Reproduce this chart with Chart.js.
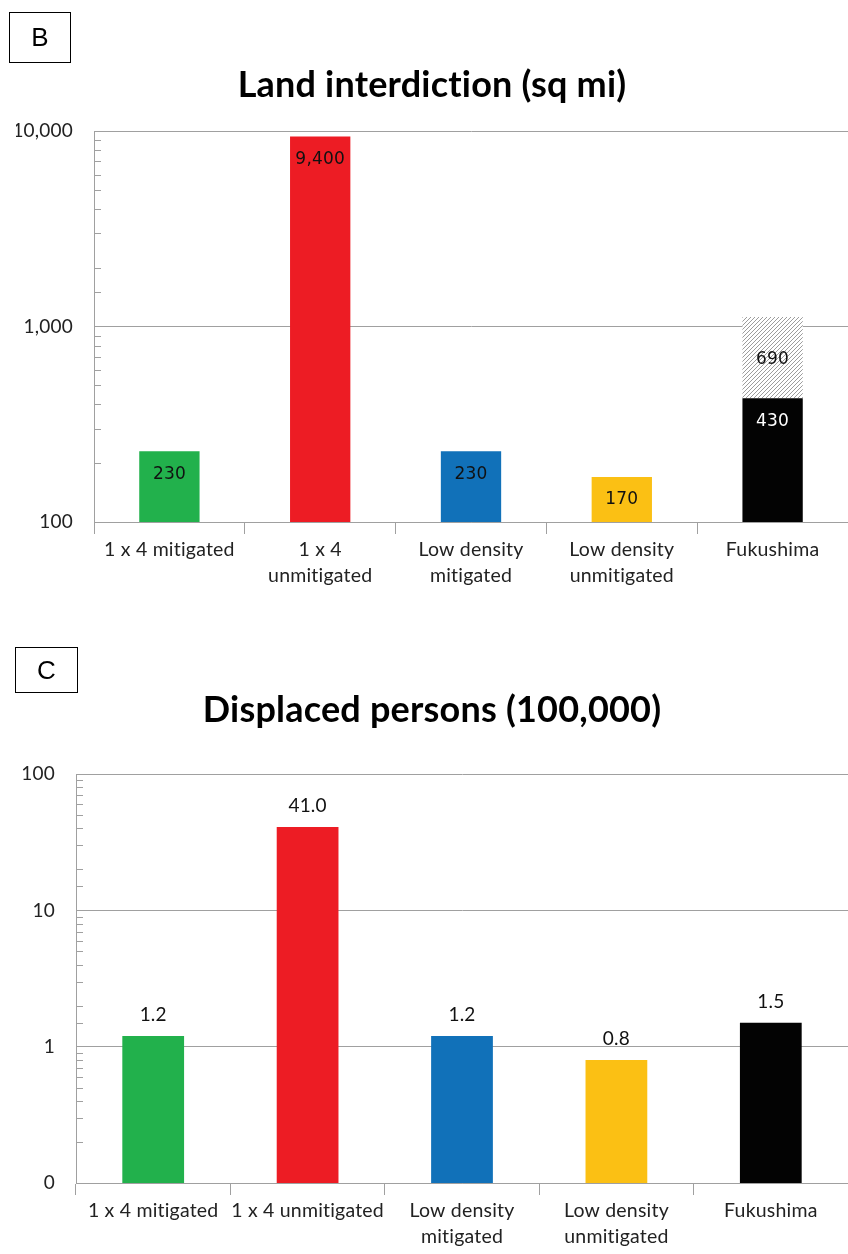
<!DOCTYPE html>
<html>
<head>
<meta charset="utf-8">
<script src="https://cdn.jsdelivr.net/npm/chart.js@4.4.1/dist/chart.umd.min.js"></script>
<style>
  body { margin: 0; background: #fff; }
  #page { position: relative; width: 848px; height: 1254px; overflow: hidden; }
  canvas { position: absolute; left: 0; }
  .panel {
    position: absolute; border: 1px solid #000; box-sizing: border-box;
    font: 26px 'Liberation Sans', Arial, sans-serif; color: #000;
    display: flex; align-items: center; justify-content: center;
  }
</style>
</head>
<body>
<div id="page">
  <canvas id="landChart" width="848" height="625" style="top:0"></canvas>
  <canvas id="peopleChart" width="848" height="629" style="top:625px"></canvas>
  <div class="panel" style="left:9px;top:12px;width:62px;height:51px;">B</div>
  <div class="panel" style="left:15px;top:647px;width:63px;height:46px;">C</div>
</div>
<script>
// Panel B: land interdiction (sq mi), log axis
const landCategories = ['1 x 4 mitigated', ['1 x 4', 'unmitigated'], ['Low density', 'mitigated'], ['Low density', 'unmitigated'], 'Fukushima'];
const landValues = [230, 9400, 230, 170, 430];
const landExtra = [null, null, null, null, 690]; // hatched part on top of Fukushima
const landTicks = [100, 1000, 10000];

// Panel C: displaced persons (100,000), log axis
const peopleCategories = ['1 x 4 mitigated', '1 x 4 unmitigated', ['Low density', 'mitigated'], ['Low density', 'unmitigated'], 'Fukushima'];
const peopleValues = [1.2, 41.0, 1.2, 0.8, 1.5];
const peopleTicks = [0.1, 1, 10, 100];

const barColors = ['#22b14c', '#ed1c24', '#1171b9', '#fbc014', '#030303'];
const gridGray = '#a0a0a0';
const axisFont = "Lato, 'Open Sans', sans-serif";

function isPow10(v) {
  const l = Math.log10(v);
  return Math.abs(l - Math.round(l)) < 1e-6;
}

function tickText(list, v) {
  const t = list.find(x => Math.abs(x - v) / x < 1e-6);
  return t === undefined ? '' : Math.round(t).toLocaleString('en-US');
}

function hatch() {
  const c = document.createElement('canvas');
  c.width = 4; c.height = 4;
  const g = c.getContext('2d');
  g.fillStyle = '#fff';
  g.fillRect(0, 0, 4, 4);
  g.strokeStyle = '#9c9c9c';
  g.lineWidth = 1;
  g.beginPath();
  g.moveTo(0, 4); g.lineTo(4, 0);
  g.moveTo(-1, 1); g.lineTo(1, -1);
  g.moveTo(3, 5); g.lineTo(5, 3);
  g.stroke();
  return g.createPattern(c, 'repeat');
}

// tiny letter spacing keeps Lato from joining "ti"
const noLigatures = {
  id: 'noLigatures',
  beforeDraw(chart) { chart.ctx.letterSpacing = '0.2px'; }
};

// small tick marks inside the plot for the minor log steps
const minorTicks = {
  id: 'minorTicks',
  afterDatasetsDraw(chart) {
    const y = chart.scales.y, ctx = chart.ctx;
    ctx.save();
    ctx.strokeStyle = gridGray;
    ctx.lineWidth = 1;
    y.ticks.forEach(t => {
      if (isPow10(t.value)) return;
      const py = Math.round(y.getPixelForValue(t.value)) + 0.5;
      ctx.beginPath();
      ctx.moveTo(y.right, py);
      ctx.lineTo(y.right + 7, py);
      ctx.stroke();
    });
    ctx.restore();
  }
};

// value labels on the bars
const valueLabels = {
  id: 'valueLabels',
  afterDatasetsDraw(chart, args, opts) {
    const ctx = chart.ctx;
    ctx.save();
    ctx.font = opts.font;
    ctx.textAlign = 'center';
    ctx.textBaseline = 'middle';
    chart.data.datasets.forEach((ds, di) => {
      chart.getDatasetMeta(di).data.forEach((bar, i) => {
        const v = ds.data[i];
        if (v == null) return;
        let y;
        if (opts.position === 'above') y = bar.y - opts.offset;
        else if ((opts.centered || []).includes(di)) y = (bar.y + bar.base) / 2 + 2;
        else y = bar.y + opts.offset;
        ctx.fillStyle = (opts.colors && opts.colors[di] && opts.colors[di][i]) || '#111';
        ctx.fillText(opts.format(v), bar.x, y);
      });
    });
    ctx.restore();
  }
};

function yAxis(min, max, list, width) {
  return {
    type: 'logarithmic', min: min, max: max, stacked: true,
    afterFit: s => { s.width = width; },
    border: { color: gridGray },
    grid: {
      drawTicks: false,
      color: c => (c.tick && isPow10(c.tick.value)) ? gridGray : 'rgba(0,0,0,0)'
    },
    ticks: {
      autoSkip: false, padding: 21, color: '#222',
      font: { family: axisFont, size: 19 },
      callback: v => tickText(list, v)
    }
  };
}

function xAxis(height) {
  return {
    stacked: true,
    afterFit: s => { s.height = height; },
    border: { color: gridGray },
    grid: { offset: true, drawOnChartArea: false, tickLength: 12, color: gridGray },
    ticks: {
      padding: 3, color: '#222', maxRotation: 0, autoSkip: false,
      font: { family: axisFont, size: 19.5, lineHeight: 1.33 }
    }
  };
}

function titleOpts(text, bottom) {
  return {
    display: true, text: text, color: '#000',
    font: { family: axisFont, size: 36, weight: 'bold', lineHeight: 1.2 },
    padding: { top: 64, bottom: bottom }
  };
}

new Chart(document.getElementById('landChart'), {
  type: 'bar',
  data: {
    labels: landCategories,
    datasets: [
      { data: landValues, backgroundColor: barColors, categoryPercentage: 1, barPercentage: 0.4 },
      { data: landExtra, backgroundColor: hatch(), categoryPercentage: 1, barPercentage: 0.4 }
    ]
  },
  options: {
    responsive: false, animation: false,
    layout: { padding: { left: 16, right: 0, top: 0, bottom: 0 } },
    plugins: {
      legend: { display: false },
      tooltip: { enabled: false },
      title: titleOpts('Land interdiction (sq mi)', 24),
      valueLabels: {
        font: "17px 'DejaVu Sans', sans-serif",
        offset: 23, centered: [1],
        colors: [['#111', '#111', '#111', '#111', '#fff']],
        format: v => v.toLocaleString('en-US')
      }
    },
    scales: { x: xAxis(103), y: yAxis(100, 10000, landTicks, 78) }
  },
  plugins: [noLigatures, minorTicks, valueLabels]
});

new Chart(document.getElementById('peopleChart'), {
  type: 'bar',
  data: {
    labels: peopleCategories,
    datasets: [
      { data: peopleValues, backgroundColor: barColors, categoryPercentage: 1, barPercentage: 0.4 }
    ]
  },
  options: {
    responsive: false, animation: false,
    layout: { padding: { left: 16, right: 0, top: 0, bottom: 0 } },
    plugins: {
      legend: { display: false },
      tooltip: { enabled: false },
      title: titleOpts('Displaced persons (100,000)', 42),
      valueLabels: {
        font: "19px Lato, 'Open Sans', sans-serif",
        position: 'above', offset: 21,
        format: v => v.toFixed(1)
      }
    },
    scales: { x: xAxis(71), y: yAxis(0.1, 100, peopleTicks, 60) }
  },
  plugins: [noLigatures, minorTicks, valueLabels]
});
</script>
</body>
</html>
